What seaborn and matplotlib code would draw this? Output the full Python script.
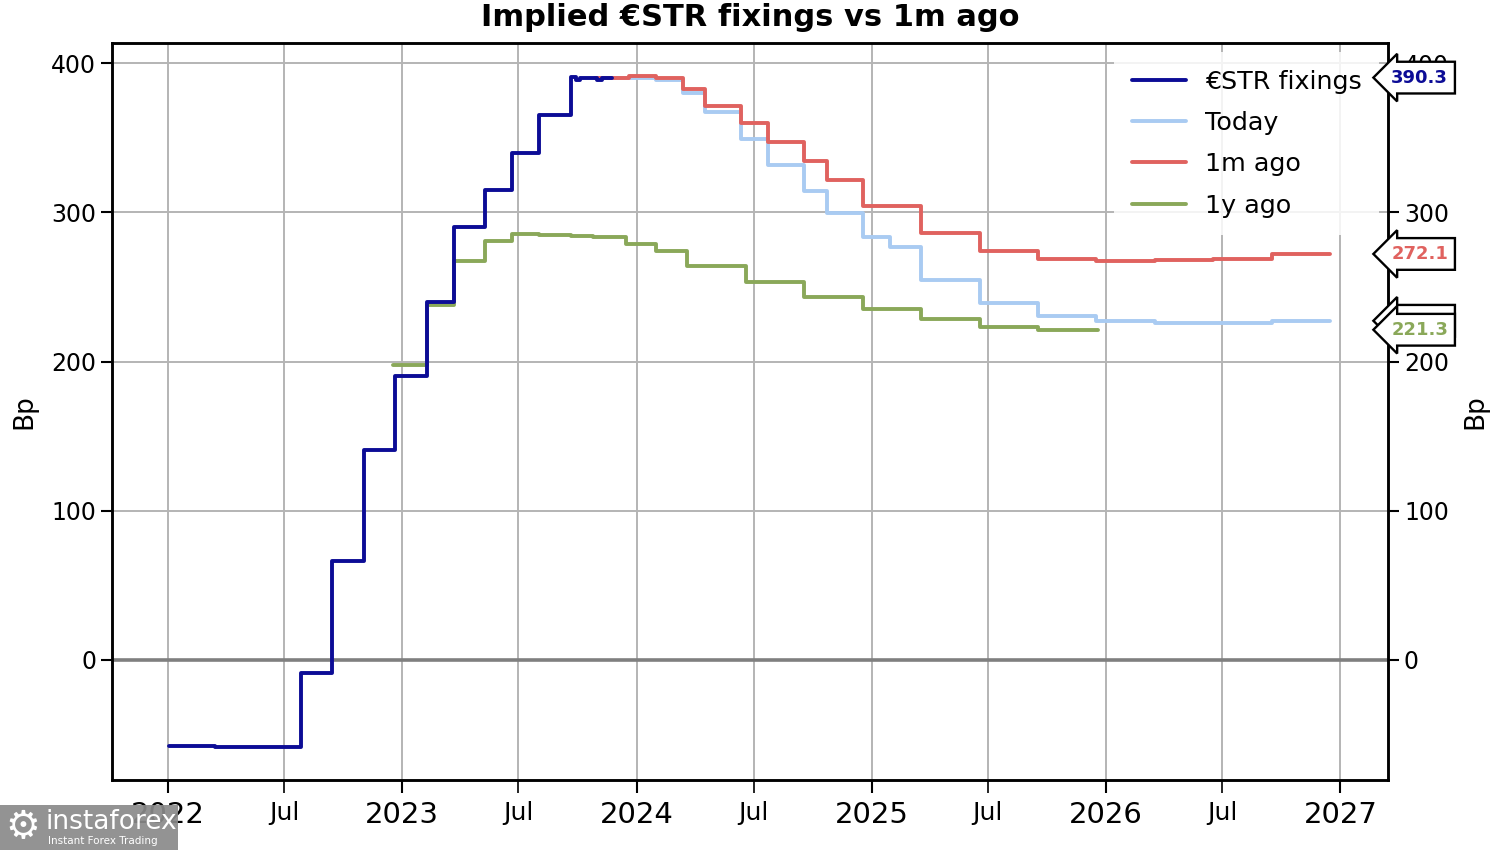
import numpy as np
import pandas as pd
import matplotlib
matplotlib.use("Agg")
import matplotlib.pyplot as plt
import matplotlib.dates as mdates
import matplotlib.transforms as mtransforms
from matplotlib.patches import Rectangle
import seaborn as sns

# ---------------- data ----------------
estr_dates = ['2022-01-03', '2022-03-15', '2022-06-01', '2022-07-27', '2022-09-14',
              '2022-11-02', '2022-12-21', '2023-02-08', '2023-03-22', '2023-05-10',
              '2023-06-21', '2023-08-02', '2023-09-20', '2023-09-28', '2023-10-05',
              '2023-11-01', '2023-11-08', '2023-11-24']
estr_vals = [-57.5, -58.5, -58.2, -8.5, 66.0, 140.5, 190.0, 240.0, 290.0, 315.0,
             340.0, 365.0, 390.5, 388.5, 390.0, 389.0, 390.3, 390.3]

today_dates = ['2023-11-24', '2024-01-31', '2024-03-13', '2024-04-17', '2024-06-12',
               '2024-07-24', '2024-09-18', '2024-10-23', '2024-12-18', '2025-01-30',
               '2025-03-19', '2025-06-18', '2025-09-17', '2025-12-17', '2026-03-18',
               '2026-06-17', '2026-09-16', '2026-12-16']
today_vals = [390.0, 389.0, 380.0, 367.0, 349.0, 332.0, 314.5, 299.7, 283.4, 277.0,
              254.6, 239.0, 230.5, 227.0, 225.8, 226.0, 227.3, 227.3]

m1_dates = ['2023-10-28', '2023-12-20', '2024-01-31', '2024-03-13', '2024-04-17',
            '2024-06-12', '2024-07-24', '2024-09-18', '2024-10-23', '2024-12-18',
            '2025-03-19', '2025-06-18', '2025-09-17', '2025-12-17', '2026-03-18',
            '2026-06-17', '2026-09-16', '2026-12-16']
m1_vals = [390.0, 391.5, 390.0, 383.0, 371.0, 360.0, 347.0, 334.5, 321.5, 304.5,
           286.0, 274.0, 269.0, 267.3, 267.8, 268.8, 272.1, 272.1]

y1_dates = ['2022-12-17', '2023-02-08', '2023-03-22', '2023-05-10', '2023-06-21',
            '2023-08-02', '2023-09-20', '2023-10-25', '2023-12-16', '2024-01-31',
            '2024-03-20', '2024-06-19', '2024-09-18', '2024-12-18', '2025-03-19',
            '2025-06-18', '2025-09-17', '2025-12-20']
y1_vals = [197.5, 238.0, 267.5, 281.0, 285.5, 285.0, 284.0, 283.2, 279.0, 274.0,
           264.0, 253.0, 243.0, 235.0, 228.3, 223.3, 221.3, 221.3]

series_names = ['€STR fixings', 'Today', '1m ago', '1y ago']
series_colors = ['#0c0c96', '#a9cbf2', '#e0625f', '#8aa859']
last_labels = ['390.3', '227.3', '272.1', '221.3']
y_ticks = [0, 100, 200, 300, 400]

# ---------------- figure ----------------
sns.set_style("white")
plt.rcParams['font.family'] = ['DejaVu Sans']
plt.rcParams.update({'text.color': 'black', 'axes.labelcolor': 'black',
                     'xtick.color': 'black', 'ytick.color': 'black'})

fig = plt.figure(figsize=(15, 8.5), dpi=100)
ax = fig.add_axes([112/1500, 70/850, 1276/1500, 737/850])

data = [(estr_dates, estr_vals), (today_dates, today_vals),
        (m1_dates, m1_vals), (y1_dates, y1_vals)]
order = [1, 3, 2, 0]  # draw order: today, 1y, 1m, fixings on top
zs = {0: 6, 1: 3, 2: 4, 3: 3}
for i in order:
    d, v = data[i]
    df = pd.DataFrame({'date': pd.to_datetime(d), 'val': v})
    sns.lineplot(data=df, x='date', y='val', ax=ax, color=series_colors[i],
                 drawstyle='steps-post', linewidth=2.8, label=series_names[i],
                 zorder=zs[i], legend=False, estimator=None)

ax.axhline(0, color='#7f7f7f', lw=2.6, zorder=2)

ax.set_xlim(pd.Timestamp('2021-10-06'), pd.Timestamp('2027-03-16'))
ax.set_ylim(-80.5, 413.5)
ax.set_yticks(y_ticks)

ax.xaxis.set_major_locator(mdates.YearLocator())
ax.xaxis.set_major_formatter(mdates.DateFormatter('%Y'))
ax.xaxis.set_minor_locator(mdates.MonthLocator(bymonth=7))
ax.xaxis.set_minor_formatter(mdates.DateFormatter('%b'))

ax.grid(which='both', axis='x', color='#b4b4b4', lw=1.4, zorder=0)
ax.grid(which='major', axis='y', color='#b4b4b4', lw=1.4, zorder=0)
ax.set_axisbelow(True)

ax.tick_params(axis='x', which='major', labelsize=21, length=9, width=1.5,
               direction='out', pad=6, bottom=True)
ax.tick_params(axis='x', which='minor', labelsize=18, length=9, width=1.2,
               direction='out', pad=6, bottom=True)
ax.tick_params(axis='y', labelsize=17, length=8, width=1.5, direction='out', left=True)
ax.set_xlabel('')
ax.set_ylabel('Bp', fontsize=19, labelpad=10)
for s in ax.spines.values():
    s.set_linewidth(1.8)
    s.set_color('black')

ax.set_title('Implied €STR fixings vs 1m ago', fontsize=22, fontweight='bold', pad=12)

handles, labels = ax.get_legend_handles_labels()
hmap = dict(zip(labels, handles))
leg = ax.legend([hmap[n] for n in series_names], series_names, loc='upper right',
                fontsize=18.3, frameon=True, framealpha=0.85, edgecolor='none',
                handlelength=2.1, handletextpad=0.75, labelspacing=0.68,
                borderaxespad=0.35, borderpad=0.7)
for lh in leg.get_lines():
    lh.set_linewidth(2.8)

# right axis
ax2 = ax.twinx()
ax2.set_ylim(ax.get_ylim())
ax2.set_yticks(y_ticks)
ax2.tick_params(axis='y', labelsize=17, length=8, width=1.5, direction='out', right=True)
ax2.set_ylabel('Bp', fontsize=19, labelpad=10, rotation=90)
for s in ax2.spines.values():
    s.set_linewidth(1.8)
    s.set_color('black')
ax2.grid(False)

# last value arrow labels
trans = mtransforms.blended_transform_factory(ax2.transAxes, ax2.transData)
lab_order = [1, 0, 2, 3]
lab_vals = [estr_vals[-1], today_vals[-1], m1_vals[-1], y1_vals[-1]]
for k, i in enumerate(lab_order):
    ax2.text(1.0025, lab_vals[i], last_labels[i], transform=trans, ha='left', va='center',
             fontsize=13, fontweight='bold', color=series_colors[i],
             clip_on=False, zorder=10 + k,
             bbox=dict(boxstyle='larrow,pad=0.38', fc='white', ec='black', lw=1.7))

# watermark
fig.patches.append(Rectangle((0, 0), 178/1500, 45/850, transform=fig.transFigure,
                             facecolor='#8a8a8a', edgecolor='none', alpha=0.92, zorder=20))
fig.text(5/1500, 23/850, '⚙', fontsize=28, color='white', va='center', ha='left', zorder=21)
fig.text(46/1500, 28/850, 'instaforex', fontsize=19, color='white', va='center',
         ha='left', zorder=21)
fig.text(48/1500, 9/850, 'Instant Forex Trading', fontsize=7.5, color='white',
         va='center', ha='left', zorder=21)

fig.savefig('out.png', dpi=100)
